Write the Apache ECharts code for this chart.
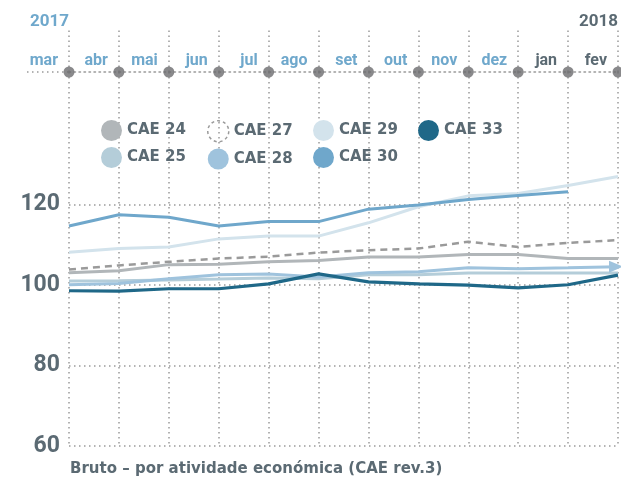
<!DOCTYPE html>
<html>
<head>
<meta charset="utf-8">
<script src="https://cdn.jsdelivr.net/npm/echarts@6/dist/echarts.min.js"></script>
<style>
  html, body { margin: 0; padding: 0; background: #fff; }
  #chart { width: 621px; height: 478px; }
</style>
</head>
<body>
<div id="chart"></div>
<script>
// meses (mar 2017 - fev 2018)
var months = ['mar', 'abr', 'mai', 'jun', 'jul', 'ago', 'set', 'out', 'nov', 'dez', 'jan', 'fev'];
var years = ['2017', '', '', '', '', '', '', '', '', '', '', '2018'];

var cae24 = [103.1, 103.6, 105.1, 105.2, 105.8, 106.1, 107.0, 107.0, 107.6, 107.6, 106.6, 106.6];
var cae25 = [101.0, 101.1, 101.3, 101.5, 101.8, 101.6, 102.6, 102.6, 103.0, 103.0, 103.0, 103.0];
var cae27 = [103.9, 104.9, 105.8, 106.6, 107.1, 108.1, 108.7, 109.1, 110.8, 109.5, 110.5, 111.2];
var cae28 = [100.1, 100.4, 101.6, 102.6, 102.8, 102.0, 103.1, 103.3, 104.3, 104.1, 104.3, 104.6];
var cae29 = [108.2, 109.1, 109.5, 111.5, 112.2, 112.2, 115.5, 119.5, 122.2, 122.8, 124.8, 127.0];
var cae30 = [114.7, 117.5, 116.9, 114.7, 115.8, 115.8, 118.9, 119.9, 121.3, 122.3, 123.2, null];
var cae33 = [98.6, 98.5, 99.1, 99.1, 100.3, 102.8, 100.8, 100.3, 100.0, 99.3, 100.1, 102.5];

var yTicks = [60, 80, 100, 120];
var Y_MIN = 60, Y_MAX = 153;

var FONT = 'Roboto';
var WIDE = '"DejaVu Sans"';
var TXT = '#5b6a73';
var BLUE = '#6fa8cc';
var GRID = '#9a9a9a';

var chart = echarts.init(document.getElementById('chart'));

function line(name, data, color, extra) {
    var s = {
        name: name,
        type: 'line',
        data: data,
        symbol: 'none',
        color: color,
        lineStyle: { color: color, width: 3 },
        z: 3
    };
    return Object.assign(s, extra || {});
}

// seta no fim da CAE 28
var cae28Data = cae28.map(function (v, i) {
    if (i === cae28.length - 1) {
        return { value: v, symbol: 'triangle', symbolSize: [12, 14], symbolRotate: -90, symbolOffset: [-2, 0] };
    }
    return v;
});

function legendCol(left, names) {
    return {
        orient: 'vertical',
        left: left,
        top: 115,
        icon: 'circle',
        itemWidth: 21,
        itemHeight: 21,
        itemGap: 6,
        selectedMode: false,
        textStyle: { fontFamily: WIDE, fontSize: 15, fontWeight: 'bold', color: TXT },
        data: names
    };
}

var option = {
    animation: false,
    textStyle: { fontFamily: FONT },
    title: {
        text: 'Bruto – por atividade económica (CAE rev.3)',
        left: 65,
        top: 457,
        textStyle: { fontFamily: WIDE, fontSize: 15, fontWeight: 'bold', color: TXT }
    },
    legend: [
        legendCol(96, ['CAE 24', 'CAE 25']),
        legendCol(202, [
            { name: 'CAE 27', itemStyle: { color: 'rgba(0,0,0,0)', borderColor: '#9a9a9a', borderWidth: 1.5, borderType: [3, 3] } },
            'CAE 28'
        ]),
        legendCol(308, ['CAE 29', 'CAE 30']),
        legendCol(413, ['CAE 33'])
    ],
    grid: { left: 69, right: 2, top: 72, bottom: 32, containLabel: false },
    xAxis: [{
        type: 'category',
        data: months,
        position: 'top',
        boundaryGap: false,
        axisLine: { show: true, lineStyle: { color: GRID, width: 1.5, type: [1.5, 3.5] } },
        axisTick: { show: true, inside: false, length: 44, lineStyle: { color: GRID, width: 1.5, type: [1.5, 3.5] } },
        axisLabel: {
            interval: 0,
            align: 'right',
            padding: [0, 11, 0, 0],
            margin: 3,
            fontFamily: FONT,
            fontSize: 16,
            fontWeight: 'bold',
            color: function (v, i) { return (v === 'jan' || v === 'fev') ? TXT : BLUE; }
        },
        splitLine: { show: true, lineStyle: { color: GRID, width: 1.5, type: [1.5, 3.5] } }
    }, {
        type: 'category',
        data: years,
        position: 'top',
        offset: 42,
        boundaryGap: false,
        axisLine: { show: false },
        axisTick: { show: false },
        axisLabel: {
            interval: 0,
            align: 'right',
            margin: 0,
            fontFamily: FONT,
            fontSize: 17,
            fontWeight: 'bold',
            color: function (v) { return v === '2017' ? BLUE : TXT; }
        },
        splitLine: { show: false }
    }],
    yAxis: {
        type: 'value',
        min: Y_MIN,
        max: Y_MAX,
        interval: 20,
        axisLine: { show: false },
        axisTick: { show: false },
        axisLabel: {
            margin: 9,
            fontFamily: FONT,
            fontSize: 23,
            fontWeight: 'bold',
            color: TXT,
            formatter: function (v) { return yTicks.indexOf(v) >= 0 ? String(v) : ''; }
        },
        splitLine: {
            show: true,
            lineStyle: { color: [GRID, GRID, GRID, GRID, 'rgba(0,0,0,0)', 'rgba(0,0,0,0)'], width: 1.5, type: [1.5, 3.5] }
        }
    },
    graphic: [{
        type: 'line',
        shape: { x1: 27, y1: 72, x2: 69, y2: 72 },
        style: { stroke: GRID, lineWidth: 1.5, lineDash: [1.5, 3.5] },
        silent: true
    }],
    series: [
        line('CAE 24', cae24, '#b1b6b9'),
        line('CAE 25', cae25, '#b4cdd9'),
        line('CAE 27', cae27, '#9a9a9a', { lineStyle: { color: '#9a9a9a', width: 2.5, type: [7, 5] } }),
        line('CAE 28', cae28Data, '#9fc3dd', { symbol: 'none', showSymbol: true }),
        line('CAE 29', cae29, '#d3e3ec'),
        line('CAE 30', cae30, '#6fa7cb'),
        line('CAE 33', cae33, '#1f6888', { lineStyle: { color: '#1f6888', width: 3.2 } }),
        {
            // pontos sobre o eixo dos meses
            type: 'scatter',
            data: months.map(function (m) { return [m, Y_MAX]; }),
            symbolSize: 11,
            itemStyle: { color: '#6b6c6e' },
            clip: false,
            silent: true,
            z: 5
        }
    ]
};

chart.setOption(option);
</script>
</body>
</html>
